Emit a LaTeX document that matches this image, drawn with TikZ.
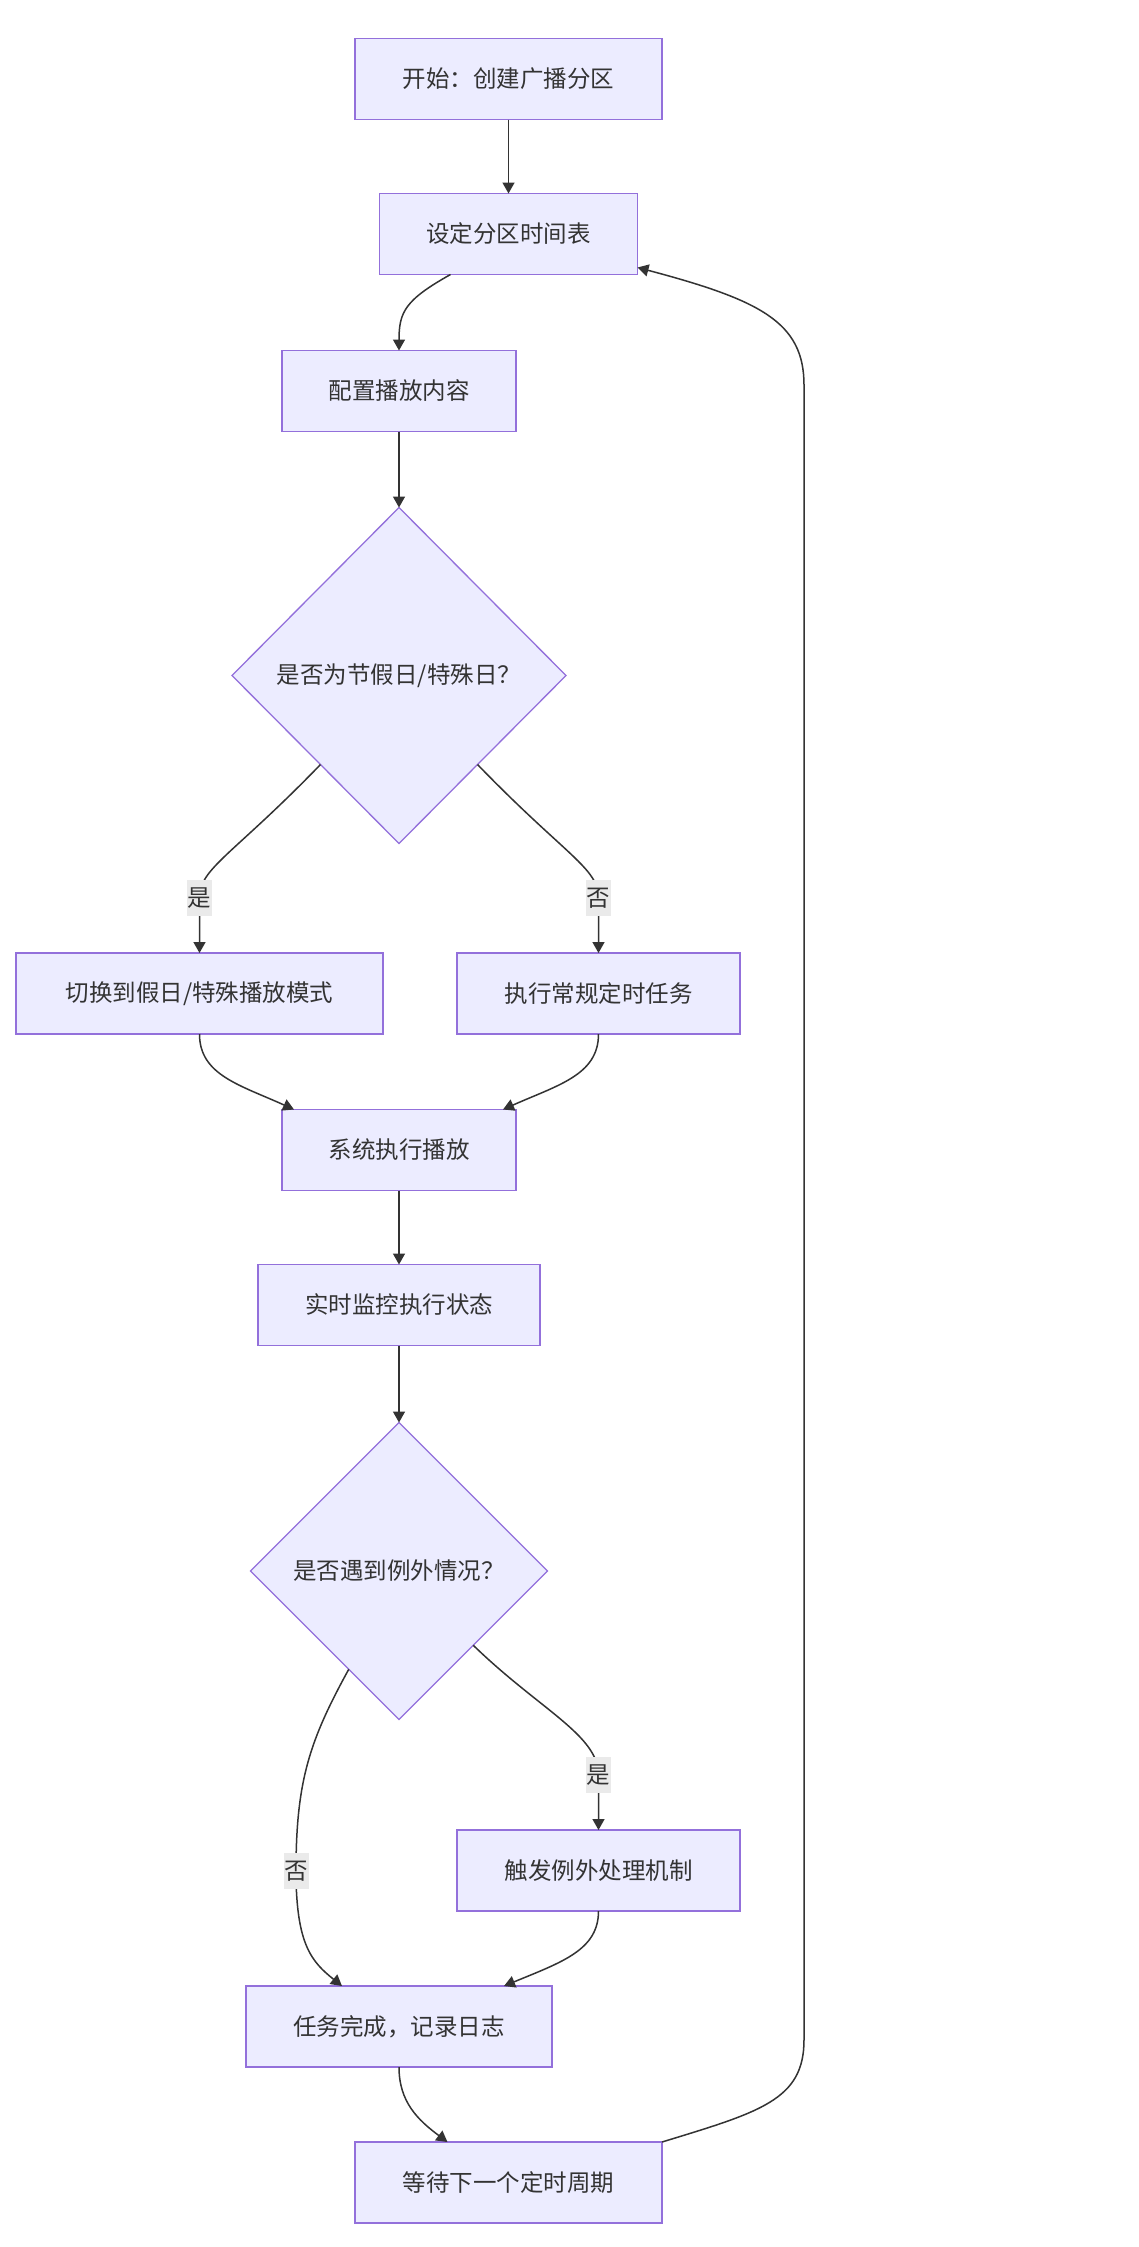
\documentclass[tikz,border=0pt]{standalone}
\usepackage{fontspec}
\setmainfont{Noto Sans CJK SC}
\usepackage{xcolor}
\usepackage{tikz}
\usetikzlibrary{shapes.geometric, arrows.meta, positioning}
\definecolor{nodefill}{HTML}{ECECFF}
\definecolor{nodeline}{HTML}{9370DB}
\definecolor{linecolor}{HTML}{333333}
\definecolor{textcolor}{HTML}{333333}
\definecolor{labelfill}{HTML}{EAEAEA}

\begin{document}
\begin{tikzpicture}[
    x=1pt, y=-1pt,
    font=\fontsize{23.5pt}{28pt}\selectfont,
    box/.style={draw=nodeline, fill=nodefill, line width=1.3pt, minimum height=81pt, inner sep=0pt, outer sep=0pt, text=textcolor},
    decision/.style={diamond, draw=nodeline, fill=nodefill, line width=1.3pt, inner sep=0pt, outer sep=0pt, text=textcolor},
    tag/.style={fill=labelfill, inner sep=0pt, minimum width=25pt, minimum height=36pt, text=textcolor},
    flow/.style={-{Triangle[length=11pt,width=12pt]}, line width=1.5pt, draw=linecolor}
]
    \path[fill=white, use as bounding box] (0,0) rectangle (1139,2247);

    % Setup steps
    \node[box, minimum width=307pt] (start) at (508.5,79) {开始：创建广播分区};
    \node[box, minimum width=258pt, below=74pt of start] (schedule) {设定分区时间表};
    \node[box, minimum width=234pt] (config) at (399,391) {配置播放内容};
    \node[decision, minimum width=334pt, minimum height=336pt, below=76pt of config] (d1) {是否为节假日/特殊日？};

    % Two branches
    \node[box, minimum width=367pt] (holiday) at (199.5,993.5) {切换到假日/特殊播放模式};
    \node[box, minimum width=283pt] (regular) at (598.5,993.5) {执行常规定时任务};

    % Run and watch
    \node[box, minimum width=234pt] (exec) at (399,1150) {系统执行播放};
    \node[box, minimum width=282pt, below=74pt of exec] (monitor) {实时监控执行状态};
    \node[decision, minimum width=297pt, minimum height=297pt, below=77pt of monitor] (d2) {是否遇到例外情况？};
    \node[box, minimum width=283pt] (exception) at (598.5,1870.5) {触发例外处理机制};
    \node[box, minimum width=306pt] (done) at (399,2026.5) {任务完成，记录日志};
    \node[box, minimum width=307pt] (wait) at (508.5,2182.5) {等待下一个定时周期};

    % Connectors
    \draw[flow] (start) -- (schedule);
    \draw[flow] ([xshift=-58pt]schedule.south) .. controls (405,300) and (399,312) .. (config.north);
    \draw[flow] (config) -- (d1);
    \draw[flow] ([xshift=5pt,yshift=-5pt]d1.south west) .. controls (232,856) and (199.5,868) .. (199.5,898) node[tag] (yes1) {是} -- (holiday.north);
    \draw[flow] ([xshift=-5pt,yshift=-5pt]d1.south east) .. controls (566,856) and (598.5,868) .. (598.5,898) node[tag] (no1) {否} -- (regular.north);
    \draw[flow] (holiday.south) .. controls (199.5,1075) and (240,1085) .. ([xshift=-105pt]exec.north);
    \draw[flow] (regular.south) .. controls (598.5,1075) and (558,1085) .. ([xshift=104pt]exec.north);
    \draw[flow] (exec) -- (monitor);
    \draw[flow] (monitor) -- (d2);
    \draw[flow] (d2.south east) .. controls (540,1710) and (598.5,1735) .. (598.5,1775) node[tag] (yes2) {是} -- (exception.north);
    \draw[flow] ([xshift=24pt,yshift=-24pt]d2.south west) .. controls (310,1740) and (296,1780) .. (296,1871) node[tag] (no2) {否} .. controls (296,1945) and (312,1962) .. ([xshift=-57pt]done.north);
    \draw[flow] (exception.south) .. controls (598.5,1950) and (562,1962) .. ([xshift=105pt]done.north);
    \draw[flow] (done.south) .. controls (399,2102) and (418,2120) .. ([xshift=-61pt]wait.north);

    % Loop back
    \draw[flow] (wait.north east) .. controls (760,2112) and (804,2100) .. (804,2040) -- (804,385) .. controls (804,322) and (760,300) .. ([yshift=7pt]schedule.south east);
\end{tikzpicture}
\end{document}
